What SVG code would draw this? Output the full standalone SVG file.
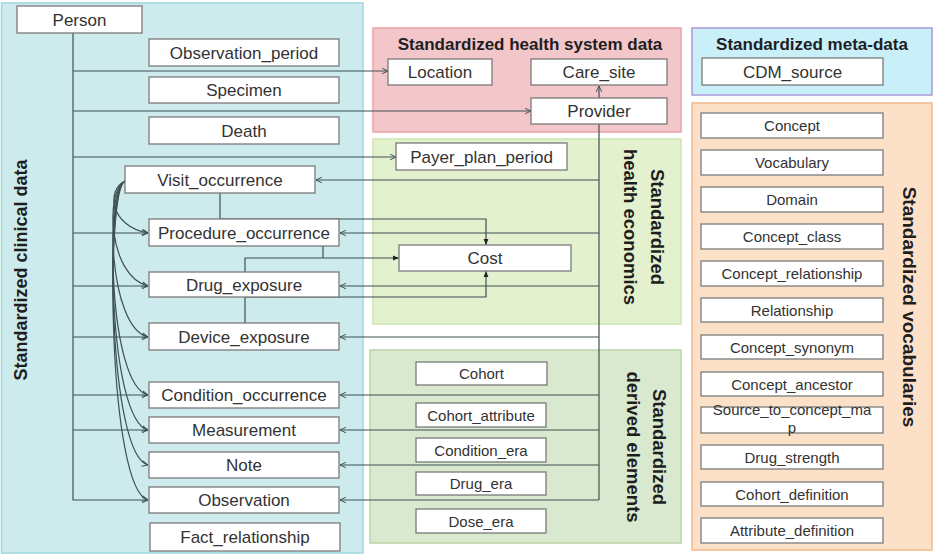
<svg xmlns="http://www.w3.org/2000/svg" width="936" height="557" viewBox="0 0 936 557">
<defs>
<style>
.bg{fill:#ffffff}
.reg{stroke-width:1.5}
.n rect{fill:#ffffff;stroke:#7a7a7a;stroke-width:1.3}
.n text{font-family:"Liberation Sans",Arial,sans-serif;fill:#333333;text-anchor:middle}
.l text{font-size:17px}
.s text{font-size:15px}
.t{font-family:"Liberation Sans",Arial,sans-serif;font-weight:bold;fill:#1e1e1e;text-anchor:middle}
.c path,.c line,.c polyline{fill:none;stroke:#3f5152;stroke-width:1.2}
</style>
<marker id="a" viewBox="0 0 10 10" refX="9.5" refY="5" markerWidth="7" markerHeight="7" orient="auto" markerUnits="userSpaceOnUse">
<path d="M1,1 L9.5,5 L1,9" fill="none" stroke="#3f5152" stroke-width="1.4"/>
</marker>
<marker id="f" viewBox="0 0 10 10" refX="10" refY="5" markerWidth="6" markerHeight="6" orient="auto" markerUnits="userSpaceOnUse">
<path d="M0,1 L10,5 L0,9 Z" fill="#222222"/>
</marker>
</defs>
<rect class="bg" x="0" y="0" width="936" height="557"/>

<g id="regions">
<g id="region-clinical">
<rect class="reg" x="1.5" y="3" width="361.5" height="550" fill="#cdebec" stroke="#9dd6dc"/>
<text class="t" font-size="18" transform="translate(27,270) rotate(-90)">Standardized clinical data</text>
</g>
<g id="region-health-system">
<rect class="reg" x="373" y="28" width="308" height="104" fill="#f3c6ca" stroke="#e8a3a8"/>
<text class="t" font-size="17" x="530" y="50">Standardized health system data</text>
</g>
<g id="region-economics">
<rect class="reg" x="373" y="139" width="308" height="185" fill="#e3f1cf" stroke="#cbe5b0"/>
<text class="t" font-size="18.5" transform="translate(651,227) rotate(90)">Standardized</text>
<text class="t" font-size="18.5" transform="translate(624,227) rotate(90)">health economics</text>
</g>
<g id="region-derived">
<rect class="reg" x="370" y="350" width="311" height="193" fill="#d9e9cf" stroke="#b8d4a6"/>
<text class="t" font-size="18.5" transform="translate(653,447) rotate(90)">Standardized</text>
<text class="t" font-size="18.5" transform="translate(627,447) rotate(90)">derived elements</text>
</g>
<g id="region-meta">
<rect class="reg" x="692" y="28" width="240" height="67" fill="#c9eff9" stroke="#a99ad6"/>
<text class="t" font-size="17" x="812" y="50">Standardized meta-data</text>
</g>
<g id="region-vocab">
<rect class="reg" x="692" y="103" width="240" height="447" fill="#fce1c8" stroke="#f2b98c"/>
<text class="t" font-size="19" transform="translate(903,307) rotate(90)">Standardized vocabularies</text>
</g>
</g>

<g id="connectors" class="c">
<!-- Person trunk -->
<polyline points="73,33 73,500 148,500" marker-end="url(#a)"/>
<line x1="73" y1="71" x2="388" y2="71" marker-end="url(#a)"/>
<line x1="73" y1="111" x2="531" y2="111" marker-end="url(#a)"/>
<line x1="73" y1="157" x2="396" y2="157" marker-end="url(#a)"/>
<line x1="73" y1="233" x2="148" y2="233" marker-end="url(#a)"/>
<line x1="73" y1="286" x2="148" y2="286" marker-end="url(#a)"/>
<line x1="73" y1="337" x2="148" y2="337" marker-end="url(#a)"/>
<line x1="73" y1="395" x2="148" y2="395" marker-end="url(#a)"/>
<line x1="73" y1="430" x2="148" y2="430" marker-end="url(#a)"/>
<!-- Visit_occurrence fan -->
<path d="M125,181 C106,190 110,226 148,233" marker-end="url(#a)"/>
<path d="M125,181 C105,190 108,276 148,286" marker-end="url(#a)"/>
<path d="M125,181 C105,190 108,327 148,337" marker-end="url(#a)"/>
<path d="M125,181 C105,190 108,385 148,395" marker-end="url(#a)"/>
<path d="M125,181 C105,190 108,420 148,430" marker-end="url(#a)"/>
<path d="M125,181 C105,190 108,455 148,465" marker-end="url(#a)"/>
<path d="M125,181 C105,190 108,490 148,500" marker-end="url(#a)"/>
<!-- Provider trunk -->
<line x1="599" y1="98" x2="599" y2="86" marker-end="url(#a)"/>
<line x1="599" y1="124" x2="599" y2="500"/>
<line x1="599" y1="180" x2="316" y2="180" marker-end="url(#a)"/>
<line x1="599" y1="233" x2="340" y2="233" marker-end="url(#a)"/>
<line x1="599" y1="286" x2="340" y2="286" marker-end="url(#a)"/>
<line x1="599" y1="337" x2="340" y2="337" marker-end="url(#a)"/>
<line x1="599" y1="395" x2="340" y2="395" marker-end="url(#a)"/>
<line x1="599" y1="430" x2="340" y2="430" marker-end="url(#a)"/>
<line x1="599" y1="465" x2="340" y2="465" marker-end="url(#a)"/>
<line x1="599" y1="500" x2="340" y2="500" marker-end="url(#a)"/>
<!-- Cost links -->
<polyline points="220,193 220,219 486,219 486,245" marker-end="url(#f)"/>
<polyline points="245,272 245,258 399,258" marker-end="url(#f)"/>
<line x1="323" y1="246" x2="323" y2="258"/>
<polyline points="245,323 245,297 486,297 486,271" marker-end="url(#f)"/>
</g>

<g id="nodes">
<g id="person" class="n l"><rect x="17" y="6" width="125" height="27"/><text x="79.5" y="25.5">Person</text></g>
<g id="observation_period" class="n l"><rect x="149" y="39" width="190" height="27"/><text x="244" y="58.5">Observation_period</text></g>
<g id="specimen" class="n l"><rect x="149" y="77" width="190" height="26"/><text x="244" y="96">Specimen</text></g>
<g id="death" class="n l"><rect x="149" y="117" width="190" height="27"/><text x="244" y="136.5">Death</text></g>
<g id="visit_occurrence" class="n l"><rect x="125" y="166" width="190" height="27"/><text x="220" y="185.5">Visit_occurrence</text></g>
<g id="procedure_occurrence" class="n l"><rect x="149" y="219" width="190" height="27"/><text x="244" y="238.5">Procedure_occurrence</text></g>
<g id="drug_exposure" class="n l"><rect x="149" y="272" width="190" height="25"/><text x="244" y="290.5">Drug_exposure</text></g>
<g id="device_exposure" class="n l"><rect x="149" y="323" width="190" height="27"/><text x="244" y="342.5">Device_exposure</text></g>
<g id="condition_occurrence" class="n l"><rect x="149" y="382" width="190" height="26"/><text x="244" y="401">Condition_occurrence</text></g>
<g id="measurement" class="n l"><rect x="149" y="417" width="190" height="26"/><text x="244" y="436">Measurement</text></g>
<g id="note" class="n l"><rect x="149" y="452" width="190" height="26"/><text x="244" y="471">Note</text></g>
<g id="observation" class="n l"><rect x="149" y="487" width="190" height="26"/><text x="244" y="506">Observation</text></g>
<g id="fact_relationship" class="n l"><rect x="150" y="523" width="190" height="28"/><text x="245" y="543">Fact_relationship</text></g>

<g id="location" class="n l"><rect x="388" y="59" width="104" height="26"/><text x="440" y="78">Location</text></g>
<g id="care_site" class="n l"><rect x="531" y="59" width="136" height="26"/><text x="599" y="78">Care_site</text></g>
<g id="provider" class="n l"><rect x="531" y="98" width="136" height="26"/><text x="599" y="117">Provider</text></g>
<g id="payer_plan_period" class="n l"><rect x="396" y="143" width="171" height="27"/><text x="481.5" y="162.5">Payer_plan_period</text></g>
<g id="cost" class="n l"><rect x="399" y="245" width="172" height="26"/><text x="485" y="264">Cost</text></g>

<g id="cohort" class="n s"><rect x="416" y="362" width="131" height="23"/><text x="481.5" y="379">Cohort</text></g>
<g id="cohort_attribute" class="n s"><rect x="416" y="403" width="130" height="24"/><text x="481" y="420.5">Cohort_attribute</text></g>
<g id="condition_era" class="n s"><rect x="416" y="438" width="130" height="24"/><text x="481" y="455.5">Condition_era</text></g>
<g id="drug_era" class="n s"><rect x="416" y="472" width="130" height="23"/><text x="481" y="489">Drug_era</text></g>
<g id="dose_era" class="n s"><rect x="416" y="509" width="130" height="24"/><text x="481" y="526.5">Dose_era</text></g>

<g id="cdm_source" class="n l"><rect x="702" y="58" width="181" height="27"/><text x="792.5" y="77.5">CDM_source</text></g>

<g id="concept" class="n s"><rect x="701" y="113" width="182" height="25"/><text x="792" y="131">Concept</text></g>
<g id="vocabulary" class="n s"><rect x="701" y="150" width="182" height="25"/><text x="792" y="168">Vocabulary</text></g>
<g id="domain" class="n s"><rect x="701" y="187" width="182" height="25"/><text x="792" y="205">Domain</text></g>
<g id="concept_class" class="n s"><rect x="701" y="224" width="182" height="25"/><text x="792" y="242">Concept_class</text></g>
<g id="concept_relationship" class="n s"><rect x="701" y="261" width="182" height="25"/><text x="792" y="279">Concept_relationship</text></g>
<g id="relationship" class="n s"><rect x="701" y="298" width="182" height="24"/><text x="792" y="315.5">Relationship</text></g>
<g id="concept_synonym" class="n s"><rect x="701" y="335" width="182" height="24"/><text x="792" y="352.5">Concept_synonym</text></g>
<g id="concept_ancestor" class="n s"><rect x="701" y="372" width="182" height="24"/><text x="792" y="389.5">Concept_ancestor</text></g>
<g id="source_to_concept_map" class="n s"><rect x="701" y="407" width="182" height="26"/><text x="792" y="415">Source_to_concept_ma</text><text x="792" y="433">p</text></g>
<g id="drug_strength" class="n s"><rect x="701" y="445" width="182" height="24"/><text x="792" y="462.5">Drug_strength</text></g>
<g id="cohort_definition" class="n s"><rect x="701" y="482" width="182" height="24"/><text x="792" y="499.5">Cohort_definition</text></g>
<g id="attribute_definition" class="n s"><rect x="701" y="518" width="182" height="25"/><text x="792" y="536">Attribute_definition</text></g>
</g>
</svg>
